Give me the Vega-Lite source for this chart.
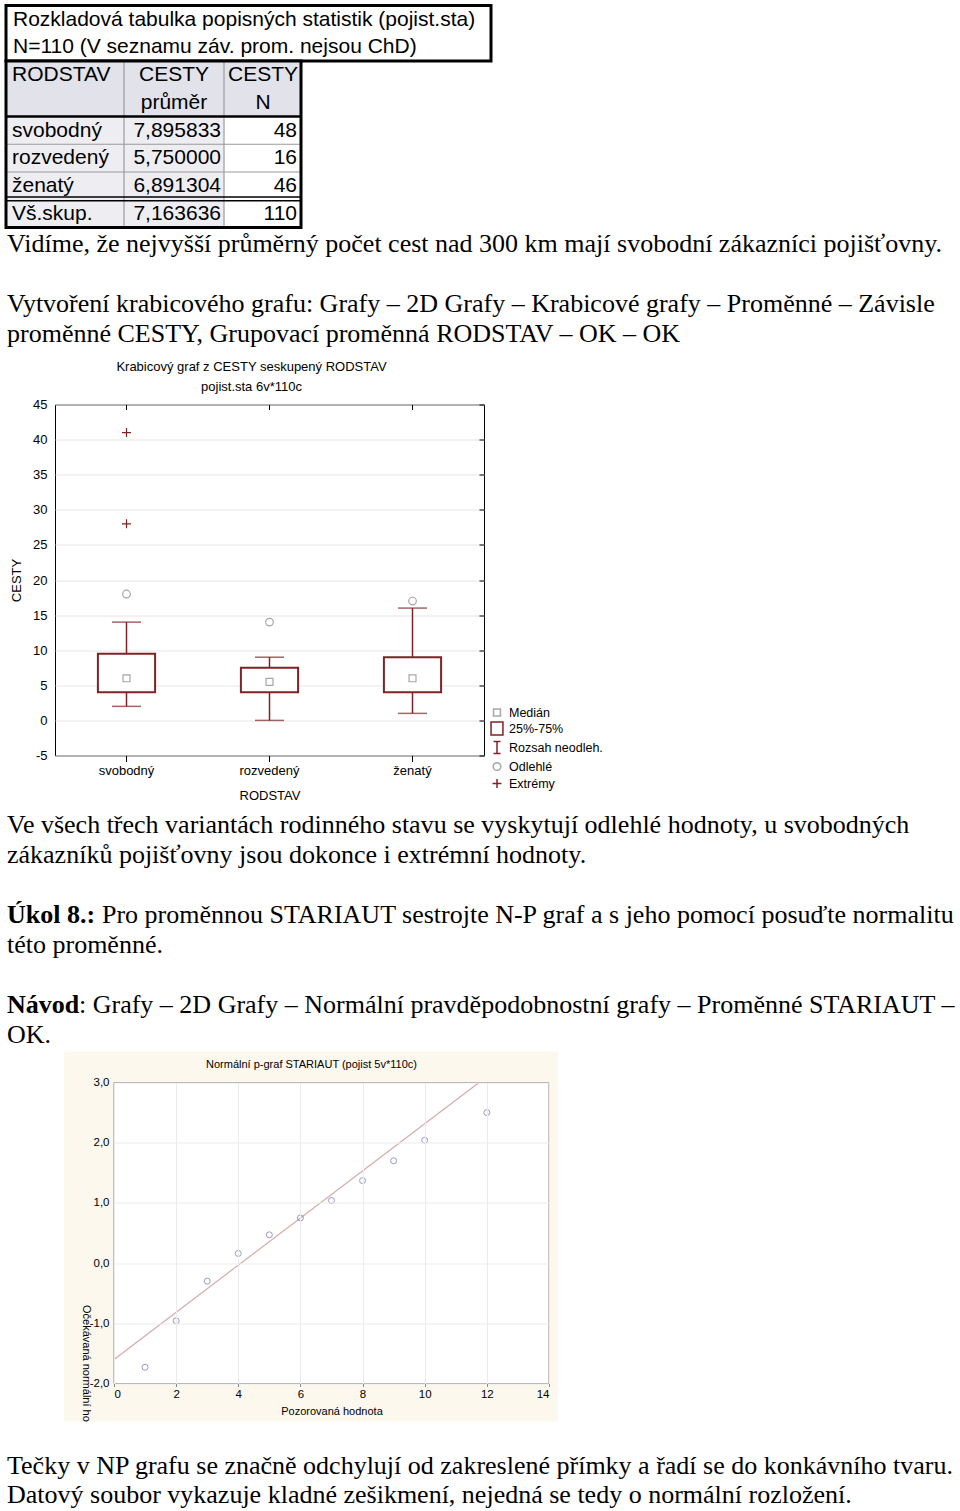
{
  "$schema": "https://vega.github.io/schema/vega-lite/v6.json",
  "background": "white",
  "padding": {"left": 4, "top": 3.5, "right": 0, "bottom": 0},
  "spacing": 0,
  "config": {
    "view": {"stroke": null},
    "font": "Liberation Sans",
    "axis": {"labelFont": "Liberation Sans", "titleFont": "Liberation Sans", "labelColor": "black", "titleColor": "black", "titleFontWeight": "normal", "minExtent": 0},
    "title": {"font": "Liberation Sans", "fontWeight": "normal", "color": "black", "subtitleFont": "Liberation Sans", "subtitleColor": "black"},
    "legend": {"labelFont": "Liberation Sans", "labelColor": "black"}
  },
  "datasets": {
    "stats": [
      {"RODSTAV": "svobodný", "prumer": "7,895833", "N": "48", "row": 4},
      {"RODSTAV": "rozvedený", "prumer": "5,750000", "N": "16", "row": 5},
      {"RODSTAV": "ženatý", "prumer": "6,891304", "N": "46", "row": 6},
      {"RODSTAV": "Vš.skup.", "prumer": "7,163636", "N": "110", "row": 7}
    ],
    "box": [
      {"RODSTAV": "svobodný", "min": 2, "q1": 4, "q3": 9.5, "max": 14},
      {"RODSTAV": "rozvedený", "min": 0, "q1": 4, "q3": 7.5, "max": 9},
      {"RODSTAV": "ženatý", "min": 1, "q1": 4, "q3": 9, "max": 16}
    ],
    "pts": [
      {"RODSTAV": "svobodný", "CESTY": 6, "typ": "Medián"},
      {"RODSTAV": "rozvedený", "CESTY": 5.5, "typ": "Medián"},
      {"RODSTAV": "ženatý", "CESTY": 6, "typ": "Medián"},
      {"RODSTAV": "svobodný", "CESTY": 18, "typ": "Odlehlé"},
      {"RODSTAV": "rozvedený", "CESTY": 14, "typ": "Odlehlé"},
      {"RODSTAV": "ženatý", "CESTY": 17, "typ": "Odlehlé"},
      {"RODSTAV": "svobodný", "CESTY": 28, "typ": "Extrémy"},
      {"RODSTAV": "svobodný", "CESTY": 41, "typ": "Extrémy"}
    ],
    "np": [
      {"x": 1, "y": -1.73}, {"x": 2, "y": -0.96}, {"x": 3, "y": -0.3}, {"x": 4, "y": 0.16},
      {"x": 5, "y": 0.47}, {"x": 6, "y": 0.75}, {"x": 7, "y": 1.04}, {"x": 8, "y": 1.37},
      {"x": 9, "y": 1.7}, {"x": 10, "y": 2.04}, {"x": 12, "y": 2.5}
    ],
    "npline": [{"x": 0, "y": -1.6}, {"x": 11.75, "y": 3.0}]
  },
  "vconcat": [
    {
      "width": 490, "height": 222,
      "layer": [
        {"data": {"values": [{}]}, "mark": {"type": "rect", "fill": "white", "stroke": "black", "strokeWidth": 3},
         "encoding": {"x": {"datum": 0, "type": "quantitative", "scale": {"domain": [0, 98], "nice": false, "zero": false}, "axis": null}, "x2": {"datum": 97},
                      "y": {"datum": 0, "type": "quantitative", "scale": {"domain": [0, 8], "nice": false, "zero": false, "reverse": true}, "axis": null}, "y2": {"datum": 2}}},
        {"data": {"values": [{}]}, "mark": {"type": "rect", "fill": "#e2e2ea"},
         "encoding": {"x": {"datum": 0, "type": "quantitative", "axis": null}, "x2": {"datum": 59}, "y": {"datum": 2, "type": "quantitative", "axis": null}, "y2": {"datum": 4}}},
        {"data": {"values": [{}]}, "mark": {"type": "rect", "fill": "#eeeef2"},
         "encoding": {"x": {"datum": 0, "type": "quantitative", "axis": null}, "x2": {"datum": 43.6}, "y": {"datum": 4, "type": "quantitative", "axis": null}, "y2": {"datum": 8}}},
        {"data": {"values": [{}]}, "mark": {"type": "rule", "color": "#8c8c8c", "strokeWidth": 1},
         "encoding": {"x": {"datum": 23.6, "type": "quantitative", "axis": null}, "y": {"datum": 2, "type": "quantitative", "axis": null}, "y2": {"datum": 8}}},
        {"data": {"values": [{}]}, "mark": {"type": "rule", "color": "#8c8c8c", "strokeWidth": 1},
         "encoding": {"x": {"datum": 43.6, "type": "quantitative", "axis": null}, "y": {"datum": 2, "type": "quantitative", "axis": null}, "y2": {"datum": 8}}},
        {"data": {"values": [{}]}, "mark": {"type": "rule", "color": "#9a9a9a", "strokeWidth": 1},
         "encoding": {"x": {"datum": 0, "type": "quantitative", "axis": null}, "x2": {"datum": 59}, "y": {"datum": 5, "type": "quantitative", "axis": null}}},
        {"data": {"values": [{}]}, "mark": {"type": "rule", "color": "#9a9a9a", "strokeWidth": 1},
         "encoding": {"x": {"datum": 0, "type": "quantitative", "axis": null}, "x2": {"datum": 59}, "y": {"datum": 6, "type": "quantitative", "axis": null}}},
        {"data": {"values": [{}]}, "mark": {"type": "rule", "color": "black", "strokeWidth": 2.5},
         "encoding": {"x": {"datum": 0, "type": "quantitative", "axis": null}, "x2": {"datum": 59}, "y": {"datum": 4, "type": "quantitative", "axis": null}}},
        {"data": {"values": [{}]}, "mark": {"type": "rule", "color": "black", "strokeWidth": 1.5},
         "encoding": {"x": {"datum": 0, "type": "quantitative", "axis": null}, "x2": {"datum": 59}, "y": {"datum": 6.9, "type": "quantitative", "axis": null}}},
        {"data": {"values": [{}]}, "mark": {"type": "rule", "color": "black", "strokeWidth": 1.5},
         "encoding": {"x": {"datum": 0, "type": "quantitative", "axis": null}, "x2": {"datum": 59}, "y": {"datum": 7.04, "type": "quantitative", "axis": null}}},
        {"data": {"values": [{}]}, "mark": {"type": "rect", "fill": null, "fillOpacity": 0, "stroke": "black", "strokeWidth": 3},
         "encoding": {"x": {"datum": 0, "type": "quantitative", "axis": null}, "x2": {"datum": 59}, "y": {"datum": 2, "type": "quantitative", "axis": null}, "y2": {"datum": 8}}},
        {"data": {"values": [{"row": 0, "text": "Rozkladová tabulka popisných statistik (pojist.sta)"}, {"row": 1, "text": "N=110 (V seznamu záv. prom. nejsou ChD)"}]},
         "mark": {"type": "text", "align": "left", "baseline": "middle", "dx": 7, "dy": 14, "fontSize": 21, "font": "Liberation Sans", "color": "black"},
         "encoding": {"x": {"datum": 0, "type": "quantitative", "axis": null}, "y": {"field": "row", "type": "quantitative", "axis": null}, "text": {"field": "text"}}},
        {"data": {"values": [{"row": 2, "text": "RODSTAV"}]},
         "mark": {"type": "text", "align": "left", "baseline": "middle", "dx": 6, "dy": 14, "fontSize": 21, "font": "Liberation Sans", "color": "black"},
         "encoding": {"x": {"datum": 0, "type": "quantitative", "axis": null}, "y": {"field": "row", "type": "quantitative", "axis": null}, "text": {"field": "text"}}},
        {"data": {"values": [{"row": 2, "text": "CESTY"}, {"row": 3, "text": "průměr"}]},
         "mark": {"type": "text", "align": "center", "baseline": "middle", "dy": 14, "fontSize": 21, "font": "Liberation Sans", "color": "black"},
         "encoding": {"x": {"datum": 33.6, "type": "quantitative", "axis": null}, "y": {"field": "row", "type": "quantitative", "axis": null}, "text": {"field": "text"}}},
        {"data": {"values": [{"row": 2, "text": "CESTY"}, {"row": 3, "text": "N"}]},
         "mark": {"type": "text", "align": "center", "baseline": "middle", "dy": 14, "fontSize": 21, "font": "Liberation Sans", "color": "black"},
         "encoding": {"x": {"datum": 51.4, "type": "quantitative", "axis": null}, "y": {"field": "row", "type": "quantitative", "axis": null}, "text": {"field": "text"}}},
        {"data": {"name": "stats"},
         "mark": {"type": "text", "align": "left", "baseline": "middle", "dx": 6, "dy": 14, "fontSize": 21, "font": "Liberation Sans", "color": "black"},
         "encoding": {"x": {"datum": 0, "type": "quantitative", "axis": null}, "y": {"field": "row", "type": "quantitative", "axis": null}, "text": {"field": "RODSTAV"}}},
        {"data": {"name": "stats"},
         "mark": {"type": "text", "align": "right", "baseline": "middle", "dx": -3, "dy": 14, "fontSize": 21, "font": "Liberation Sans", "color": "black"},
         "encoding": {"x": {"datum": 43.6, "type": "quantitative", "axis": null}, "y": {"field": "row", "type": "quantitative", "axis": null}, "text": {"field": "prumer"}}},
        {"data": {"name": "stats"},
         "mark": {"type": "text", "align": "right", "baseline": "middle", "dx": -4, "dy": 14, "fontSize": 21, "font": "Liberation Sans", "color": "black"},
         "encoding": {"x": {"datum": 59, "type": "quantitative", "axis": null}, "y": {"field": "row", "type": "quantitative", "axis": null}, "text": {"field": "N"}}}
      ]
    },
    {
      "width": 950, "height": 129.5,
      "data": {"values": [
        {"line": 0, "text": "Vidíme, že nejvyšší průměrný počet cest nad 300 km mají svobodní zákazníci pojišťovny."},
        {"line": 2, "text": "Vytvoření krabicového grafu: Grafy – 2D Grafy – Krabicové grafy – Proměnné – Závisle"},
        {"line": 3, "text": "proměnné CESTY, Grupovací proměnná RODSTAV – OK – OK"}
      ]},
      "mark": {"type": "text", "align": "left", "baseline": "middle", "font": "Liberation Serif", "fontSize": 26, "dx": 1, "color": "black"},
      "encoding": {
        "x": {"datum": 0, "type": "quantitative", "scale": {"domain": [0, 1]}, "axis": null},
        "y": {"field": "line", "type": "quantitative", "scale": {"domain": [-0.467, 3.85], "nice": false, "zero": false, "reverse": true}, "axis": null},
        "text": {"field": "text"}
      }
    },
    {
      "spacing": 0,
      "hconcat": [
        {"width": 3, "height": 20, "data": {"values": [{}]}, "mark": {"type": "rect", "opacity": 0}},
        {
          "width": 429, "height": 351,
          "view": {"stroke": "black", "strokeWidth": 1},
          "title": {"text": "Krabicový graf z CESTY seskupený RODSTAV", "subtitle": "pojist.sta 6v*110c", "fontSize": 13, "subtitleFontSize": 13, "subtitlePadding": 7, "offset": 5, "anchor": "middle", "frame": "group", "dx": -18},
          "resolve": {"axis": {"x": "independent", "y": "independent"}},
          "layer": [
            {"data": {"name": "box"}, "mark": {"type": "rule", "color": "#7f2326", "strokeWidth": 1.5},
             "encoding": {
               "x": {"field": "RODSTAV", "type": "nominal", "sort": ["svobodný", "rozvedený", "ženatý"], "scale": {"paddingInner": 0, "paddingOuter": 0},
                     "axis": {"orient": "bottom", "title": "RODSTAV", "labelAngle": 0, "labelFontSize": 13, "titleFontSize": 13, "tickSize": 6, "tickColor": "black", "domain": false, "labelPadding": 3, "titlePadding": 12}},
               "y": {"field": "min", "type": "quantitative", "scale": {"domain": [-5, 45], "nice": false, "zero": false},
                     "axis": {"title": "CESTY", "values": [-5, 0, 5, 10, 15, 20, 25, 30, 35, 40, 45], "labelExpr": "replace(datum.label, '−', '-')", "labelFontSize": 13, "titleFontSize": 13, "ticks": false, "domain": false, "labelPadding": 8, "titlePadding": 9.5, "grid": true, "gridColor": "#e6e6e6"}},
               "y2": {"field": "max"}
             }},
            {"data": {"name": "box"}, "mark": {"type": "tick", "color": "#7f2326", "thickness": 1.5, "size": 29},
             "encoding": {
               "x": {"field": "RODSTAV", "type": "nominal", "sort": ["svobodný", "rozvedený", "ženatý"],
                     "axis": {"orient": "top", "labels": false, "title": null, "tickSize": -5, "tickColor": "black", "domain": false, "grid": false}},
               "y": {"field": "min", "type": "quantitative",
                     "axis": {"orient": "right", "labels": false, "title": null, "values": [-5, 0, 5, 10, 15, 20, 25, 30, 35, 40, 45], "tickSize": -5, "tickColor": "black", "domain": false, "grid": false}}
             }},
            {"data": {"name": "box"}, "mark": {"type": "tick", "color": "#7f2326", "thickness": 1.5, "size": 29},
             "encoding": {
               "x": {"field": "RODSTAV", "type": "nominal", "sort": ["svobodný", "rozvedený", "ženatý"], "axis": null},
               "y": {"field": "max", "type": "quantitative", "axis": null}
             }},
            {"data": {"name": "box"}, "mark": {"type": "bar", "width": {"band": 0.4}, "fill": "white", "stroke": "#7f2326", "strokeWidth": 2},
             "encoding": {
               "x": {"field": "RODSTAV", "type": "nominal", "sort": ["svobodný", "rozvedený", "ženatý"], "axis": null},
               "y": {"field": "q1", "type": "quantitative", "axis": null},
               "y2": {"field": "q3"}
             }},
            {"data": {"name": "pts"}, "mark": {"type": "point", "filled": false, "strokeWidth": 1.2, "opacity": 1, "size": 289},
             "encoding": {
               "x": {"field": "RODSTAV", "type": "nominal", "sort": ["svobodný", "rozvedený", "ženatý"], "axis": null},
               "y": {"field": "CESTY", "type": "quantitative", "axis": null},
               "shape": {"field": "typ", "type": "nominal",
                         "scale": {"domain": ["Medián", "25%-75%", "Rozsah neodleh.", "Odlehlé", "Extrémy"],
                                   "range": ["M-0.41,-0.41H0.41V0.41H-0.41Z", "M-0.7,-0.76H0.7V0.76H-0.7Z", "M-0.41,-0.7H0.41M0,-0.7V0.7M-0.41,0.7H0.41", "M-0.45,0A0.45,0.45 0 1,0 0.45,0A0.45,0.45 0 1,0 -0.45,0Z", "M-0.53,0H0.53M0,-0.53V0.53"]},
                         "legend": {"title": null, "orient": "none", "legendX": 481.5, "legendY": 697.5, "labelFontSize": 12.5, "symbolStrokeWidth": 1.5, "symbolSize": 289, "rowPadding": 0, "labelOffset": 2.5}},
               "color": {"field": "typ", "type": "nominal",
                         "scale": {"domain": ["Medián", "25%-75%", "Rozsah neodleh.", "Odlehlé", "Extrémy"], "range": ["#a6a6a6", "#7f2326", "#7f2326", "#a6a6a6", "#7f2326"]},
                         "legend": {"title": null, "orient": "none", "legendX": 481.5, "legendY": 697.5, "labelFontSize": 12.5, "symbolStrokeWidth": 1.5, "symbolSize": 289, "rowPadding": 0, "labelOffset": 2.5}}
             }}
          ]
        }
      ]
    },
    {
      "width": 950, "height": 246.5,
      "data": {"values": [
        {"line": 0, "text": "Ve všech třech variantách rodinného stavu se vyskytují odlehlé hodnoty, u svobodných"},
        {"line": 1, "text": "zákazníků pojišťovny jsou dokonce i extrémní hodnoty."},
        {"line": 3, "bold": "Úkol 8.:", "text": "Pro proměnnou STARIAUT sestrojte N-P graf a s jeho pomocí posuďte normalitu"},
        {"line": 4, "text": "této proměnné."},
        {"line": 6, "bold": "Návod", "text": ": Grafy – 2D Grafy – Normální pravděpodobnostní grafy – Proměnné STARIAUT –"},
        {"line": 7, "text": "OK."}
      ]},
      "encoding": {
        "x": {"datum": 0, "type": "quantitative", "scale": {"domain": [0, 1]}, "axis": null},
        "y": {"field": "line", "type": "quantitative", "scale": {"domain": [-0.717, 7.5], "nice": false, "zero": false, "reverse": true}, "axis": null}
      },
      "layer": [
        {"transform": [{"filter": "!datum.bold"}],
         "mark": {"type": "text", "align": "left", "baseline": "middle", "font": "Liberation Serif", "fontSize": 26, "dx": 1, "color": "black"},
         "encoding": {"text": {"field": "text"}}},
        {"transform": [{"filter": "datum.bold"}],
         "mark": {"type": "text", "align": "left", "baseline": "middle", "font": "Liberation Serif", "fontSize": 26, "fontWeight": "bold", "dx": 1, "color": "black"},
         "encoding": {"text": {"field": "bold"}}},
        {"transform": [{"filter": "datum.line == 3"}],
         "mark": {"type": "text", "align": "left", "baseline": "middle", "font": "Liberation Serif", "fontSize": 26, "dx": 96, "color": "black"},
         "encoding": {"text": {"field": "text"}}},
        {"transform": [{"filter": "datum.line == 6"}],
         "mark": {"type": "text", "align": "left", "baseline": "middle", "font": "Liberation Serif", "fontSize": 26, "dx": 73, "color": "black"},
         "encoding": {"text": {"field": "text"}}}
      ]
    },
    {
      "spacing": 0,
      "hconcat": [
        {"width": 58, "height": 20, "data": {"values": [{}]}, "mark": {"type": "rect", "opacity": 0}},
        {
          "width": 435, "height": 301,
          "title": {"text": "Normální p-graf STARIAUT  (pojist 5v*110c)", "fontSize": 11, "offset": -19, "anchor": "middle", "frame": "group", "dx": -20},
          "layer": [
            {"data": {"values": [{}]}, "mark": {"type": "rect", "fill": "#fcf8ee"},
             "encoding": {
               "x": {"datum": -1.609, "type": "quantitative", "scale": {"domain": [0, 14], "nice": false, "zero": false},
                     "axis": {"title": "Pozorovaná hodnota", "values": [0, 2, 4, 6, 8, 10, 12, 14], "labelFontSize": 11.5, "titleFontSize": 11, "grid": true, "gridColor": "#ebebeb", "tickSize": 3, "tickColor": "#888888", "domain": false, "labelPadding": 2, "titlePadding": 5, "zindex": 1, "labelOverlap": false}},
               "x2": {"datum": 14.29},
               "y": {"datum": 3.515, "type": "quantitative", "scale": {"domain": [-2, 3], "nice": false, "zero": false},
                     "axis": {"title": "Očekávaná normální ho", "values": [-2, -1.5, -1, -0.5, 0, 0.5, 1, 1.5, 2, 2.5, 3], "labelExpr": "replace(replace(format(datum.value, '.1f'), '.', ','), '−', '-')", "labelOverlap": false, "labelFontSize": 11.5, "titleFontSize": 11, "grid": true, "gridColor": "#ebebeb", "ticks": false, "domain": false, "labelPadding": 5, "titleAngle": 90, "titleX": -29, "titleY": 222, "titleAlign": "left", "titleBaseline": "middle", "zindex": 1}},
               "y2": {"datum": -2.631}
             }},
            {"data": {"values": [{}]}, "mark": {"type": "rect", "fill": "white", "stroke": "#8a8a8a", "strokeWidth": 1},
             "encoding": {"x": {"datum": 0, "type": "quantitative"}, "x2": {"datum": 14}, "y": {"datum": -2, "type": "quantitative"}, "y2": {"datum": 3}}},
            {"data": {"name": "npline"}, "mark": {"type": "line", "color": "#d9a9a9", "strokeWidth": 1.2},
             "encoding": {"x": {"field": "x", "type": "quantitative"}, "y": {"field": "y", "type": "quantitative"}}},
            {"data": {"name": "np"}, "mark": {"type": "point", "filled": false, "color": "#6f6fb5", "size": 36, "strokeWidth": 1},
             "encoding": {"x": {"field": "x", "type": "quantitative"}, "y": {"field": "y", "type": "quantitative"}}}
          ]
        }
      ]
    },
    {
      "width": 950, "height": 91,
      "data": {"values": [
        {"line": 0, "text": "Tečky v NP grafu se značně odchylují od zakreslené přímky a řadí se do konkávního tvaru."},
        {"line": 1, "text": "Datový soubor vykazuje kladné zešikmení, nejedná se tedy o normální rozložení."}
      ]},
      "mark": {"type": "text", "align": "left", "baseline": "middle", "font": "Liberation Serif", "fontSize": 26, "dx": 1, "color": "black"},
      "encoding": {
        "x": {"datum": 0, "type": "quantitative", "scale": {"domain": [0, 1]}, "axis": null},
        "y": {"field": "line", "type": "quantitative", "scale": {"domain": [-1.467, 1.567], "nice": false, "zero": false, "reverse": true}, "axis": null},
        "text": {"field": "text"}
      }
    }
  ]
}
